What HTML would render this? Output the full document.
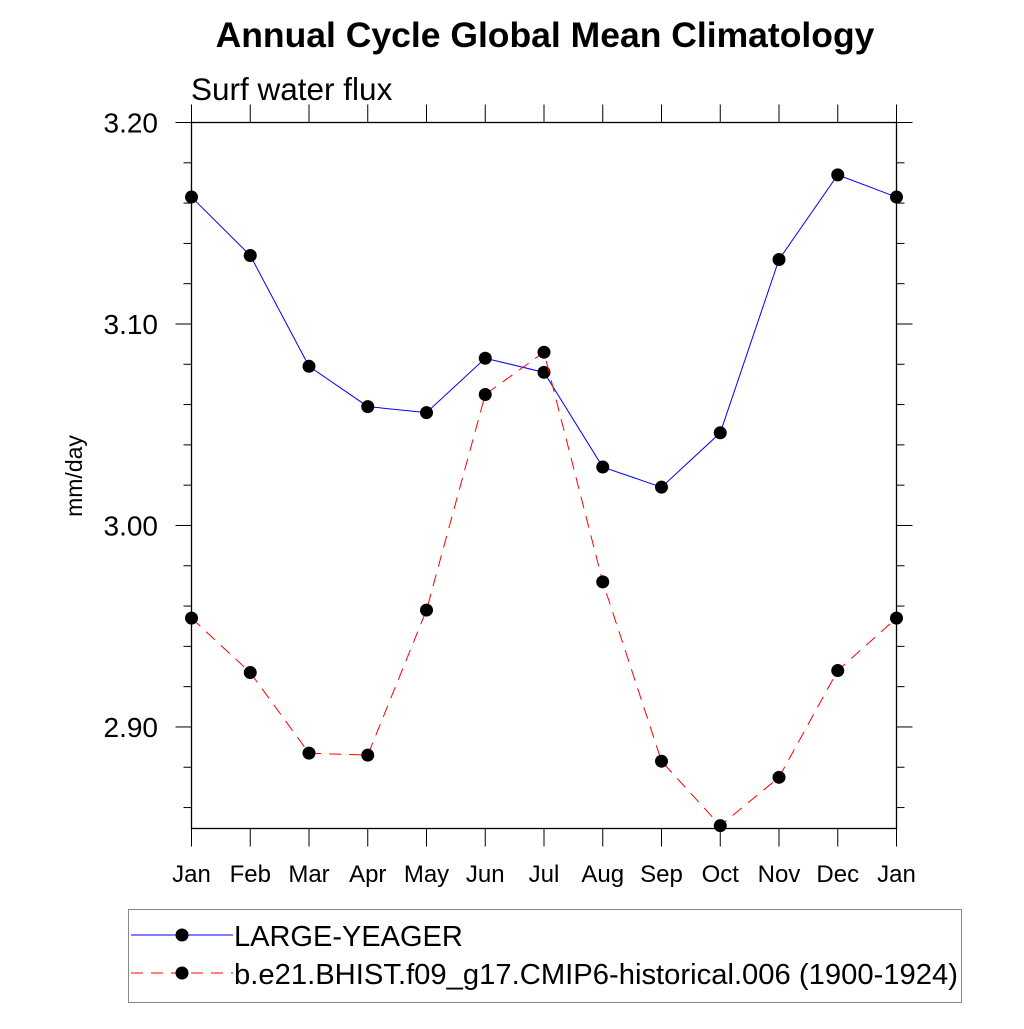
<!DOCTYPE html>
<html><head><meta charset="utf-8"><style>
body{margin:0;background:#fff;}
svg text{font-family:"Liberation Sans",sans-serif;}
</style></head><body>
<svg id="chart" width="1024" height="1024" xmlns="http://www.w3.org/2000/svg">
<text x="545" y="47" font-size="35.5" font-weight="bold" text-anchor="middle">Annual Cycle Global Mean Climatology</text>
<text x="191" y="100" font-size="31.5">Surf water flux</text>
<text transform="translate(82,476) rotate(-90)" font-size="23" text-anchor="middle">mm/day</text>
<g id="axes"></g>
<g id="series"></g>
<rect x="128.5" y="909.5" width="833" height="93" fill="none" stroke="#888" stroke-width="1"/>
<g>
<line x1="131" y1="935" x2="233" y2="935" stroke="#00f" stroke-width="1"/>
<circle cx="182" cy="935" r="6.5" fill="#000"/>
<text x="234" y="946" font-size="29">LARGE-YEAGER</text>
</g>
<g>
<line x1="131" y1="973" x2="233" y2="973" stroke="#f00" stroke-width="1" stroke-dasharray="12,8"/>
<circle cx="182" cy="973" r="6.5" fill="#000"/>
<text x="234" y="984" font-size="29" textLength="724" lengthAdjust="spacingAndGlyphs">b.e21.BHIST.f09_g17.CMIP6-historical.006 (1900-1924)</text>
</g>
</svg>
<script>
const months=["Jan","Feb","Mar","Apr","May","Jun","Jul","Aug","Sep","Oct","Nov","Dec","Jan"];
const yTicks=[2.90,3.00,3.10,3.20];
const yTickLabels=["2.90","3.00","3.10","3.20"];
const largeYeager=[3.163,3.134,3.079,3.059,3.056,3.083,3.076,3.029,3.019,3.046,3.132,3.174,3.163];
const bhist=[2.954,2.927,2.887,2.886,2.958,3.065,3.086,2.972,2.883,2.851,2.875,2.928,2.954];
const X0=191.5,X1=896.5,Y0=122.5,Y1=828.5,YMAX=3.2,YMIN=2.8496;
const xs=i=>X0+(X1-X0)*i/12;
const ys=v=>Y0+(YMAX-v)/(YMAX-YMIN)*(Y1-Y0);
const NS="http://www.w3.org/2000/svg";
function mk(t,a,p){const e=document.createElementNS(NS,t);for(const k in a)e.setAttribute(k,a[k]);p.appendChild(e);return e;}
const ax=document.getElementById('axes');
const fr=mk('rect',{x:X0,y:Y0,width:X1-X0,height:Y1-Y0,fill:'none',stroke:'#000','stroke-width':1.3},ax);


months.forEach((m,i)=>{
 const x=xs(i);
 mk('line',{x1:x,y1:Y1,x2:x,y2:Y1+18,stroke:'#000'},ax);
 mk('line',{x1:x,y1:Y0,x2:x,y2:Y0-18,stroke:'#000'},ax);
 const t=mk('text',{x:x,y:882,'font-size':24,'text-anchor':'middle'},ax);
 t.textContent=m;
 
 
});
for(let k=0;k<=17;k++){
 const v=2.86+0.02*k; if(v>YMAX+1e-9)break;
 const y=ys(v); const major=Math.abs((v*10)-Math.round(v*10))<1e-6;
 const L=major?16:8;
 mk('line',{x1:X0-L,y1:y,x2:X0,y2:y,stroke:'#000'},ax);
 mk('line',{x1:X1,y1:y,x2:X1+L,y2:y,stroke:'#000'},ax);
}
yTicks.forEach((v,i)=>{
 const t=mk('text',{x:158,y:ys(v)+10,'font-size':28,'text-anchor':'end'},ax);
 t.textContent=yTickLabels[i];
 
 
});
const sg=document.getElementById('series');
function draw(vals,color,dash,name){
 const pl=mk('polyline',{points:vals.map((v,i)=>xs(i)+','+ys(v)).join(' '),fill:'none',stroke:color,'stroke-width':1,'stroke-dasharray':dash},sg);
 
 
 vals.forEach((v,i)=>{
  const c=mk('circle',{cx:xs(i),cy:ys(v),r:6.5,fill:'#000'},sg);
  
  
 });
}
draw(largeYeager,'#00f','none','large-yeager');
draw(bhist,'#f00','12,8','bhist');
</script>
</body></html>
